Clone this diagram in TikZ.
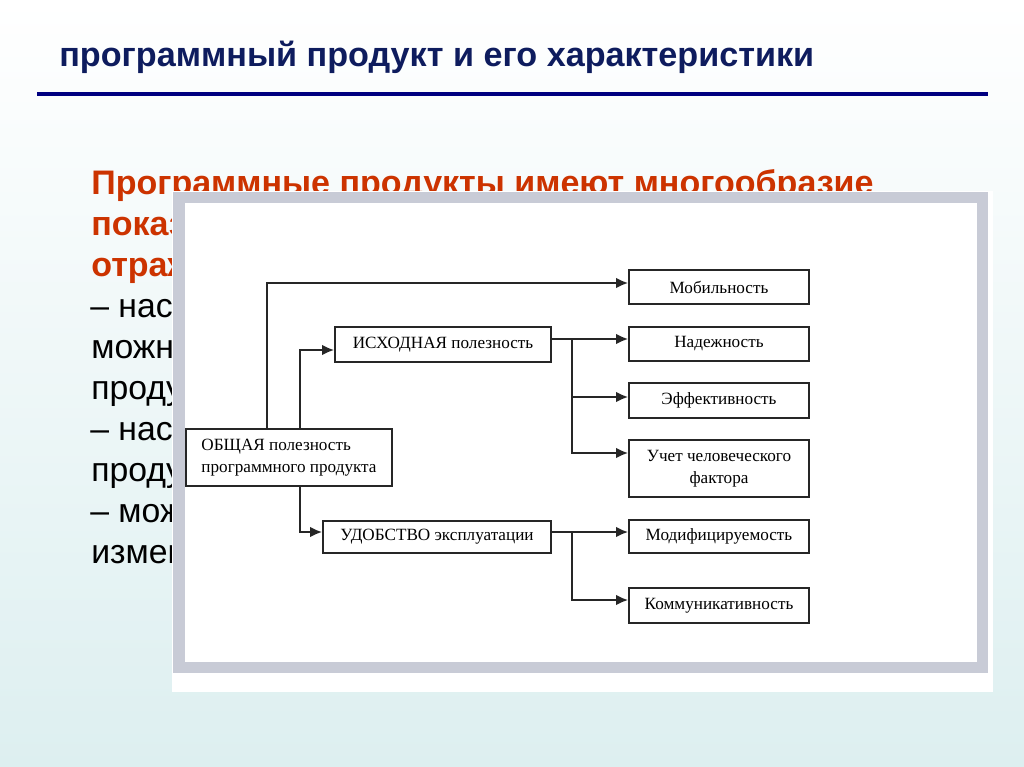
\documentclass[tikz,border=0pt]{standalone}
\usepackage{fontspec}
\setmainfont{Liberation Serif}
\setsansfont{Liberation Sans}
\usetikzlibrary{arrows.meta, positioning, calc}

\newcommand{\px}{0.025cm}
\definecolor{titlenavy}{RGB}{14,28,94}
\definecolor{rulenavy}{RGB}{0,0,128}
\definecolor{leadred}{RGB}{204,51,0}
\definecolor{bgcyan}{RGB}{221,239,240}
\definecolor{framegray}{RGB}{200,203,214}

\begin{document}
\begin{tikzpicture}[
        x=0.025cm, y=-0.025cm,
        box/.style={rectangle, draw=black!85, line width=1.3pt, fill=white, inner sep=2pt, font=\fontsize{12.2}{15.5}\selectfont},
        wide/.style={box, minimum width=180*\px},
        msg/.style={-{Latex[length=8.5pt, width=7.5pt]}, line width=1.3pt, draw=black!85},
        lead/.style={anchor=base west, inner sep=0pt, font=\sffamily\fontsize{24}{29}\selectfont},
        leadbold/.style={lead, text=leadred, font=\sffamily\bfseries\fontsize{24.2}{29}\selectfont}
    ]
        \useasboundingbox (0,0) rectangle (1024,767);
        \shade[top color=white, bottom color=bgcyan] (0,0) rectangle (1024,767);
        % slide heading
        \node[anchor=base west, inner sep=0pt, text=titlenavy, font=\sffamily\bfseries\fontsize{24.3}{29}\selectfont] (title) at (59,67) {программный продукт и его характеристики};
        \fill[rulenavy] (37,92) rectangle (988,96);
        % slide text behind the picture
        \node[leadbold] (t1) at (91,195) {Программные продукты имеют многообразие};
        \node[leadbold] (t2) at (91,235) {показ};
        \node[leadbold] (t3) at (91,276) {отраж};
        \node[lead] (t4) at (90,317) {– нас};
        \node[lead] (t5) at (91,358) {можн};
        \node[lead] (t6) at (91,399) {проду};
        \node[lead] (t7) at (90,440) {– нас};
        \node[lead] (t8) at (91,481) {проду};
        \node[lead] (t9) at (90,522) {– мож};
        \node[lead] (t10) at (91,563) {измен};
        % picture frame
        \fill[white] (172,191) rectangle (993,692);
        \fill[framegray] (173,192) rectangle (988,673);
        \fill[white] (185,203) rectangle (977,662);
        % diagram
        \node[box, minimum width=206*\px, minimum height=57*\px, align=left] (total) at (289,457.5) {ОБЩАЯ полезность\\программного продукта};
        \node[box, minimum width=216*\px, minimum height=35*\px] (source) at (443,344.5) {ИСХОДНАЯ полезность};
        \node[box, minimum width=228*\px, minimum height=32*\px] (usab) at (437,537) {УДОБСТВО эксплуатации};
        \node[wide, minimum height=34*\px] (mob) at (719,287) {Мобильность};
        \node[wide, minimum height=34*\px] (rel) at (719,344) {Надежность};
        \node[wide, minimum height=35*\px] (eff) at (719,400.5) {Эффективность};
        \node[wide, minimum height=57*\px, align=center] (human) at (719,468.5) {Учет человеческого\\фактора};
        \node[wide, minimum height=33*\px] (mod) at (719,536.5) {Модифицируемость};
        \node[wide, minimum height=35*\px] (comm) at (719,605.5) {Коммуникативность};
        \coordinate (srcfork) at (572,339);
        \coordinate (usefork) at (572,532);
        \draw[msg] ([xshift=-22*\px]total.north) |- ([yshift=4*\px]mob.west);
        \draw[msg] ([xshift=11*\px]total.north) |- ([yshift=-5.5*\px]source.west);
        \draw[msg] ([xshift=11*\px]total.south) |- ([yshift=5*\px]usab.west);
        \draw[msg] ([yshift=5.5*\px]source.east) -- ([yshift=5*\px]rel.west);
        \draw[msg] (srcfork) |- ([yshift=3.5*\px]eff.west);
        \draw[msg] (srcfork) |- ([yshift=15.5*\px]human.west);
        \draw[msg] ([yshift=5*\px]usab.east) -- ([yshift=4.5*\px]mod.west);
        \draw[msg] (usefork) |- ([yshift=5.5*\px]comm.west);
    \end{tikzpicture}
\end{document}
